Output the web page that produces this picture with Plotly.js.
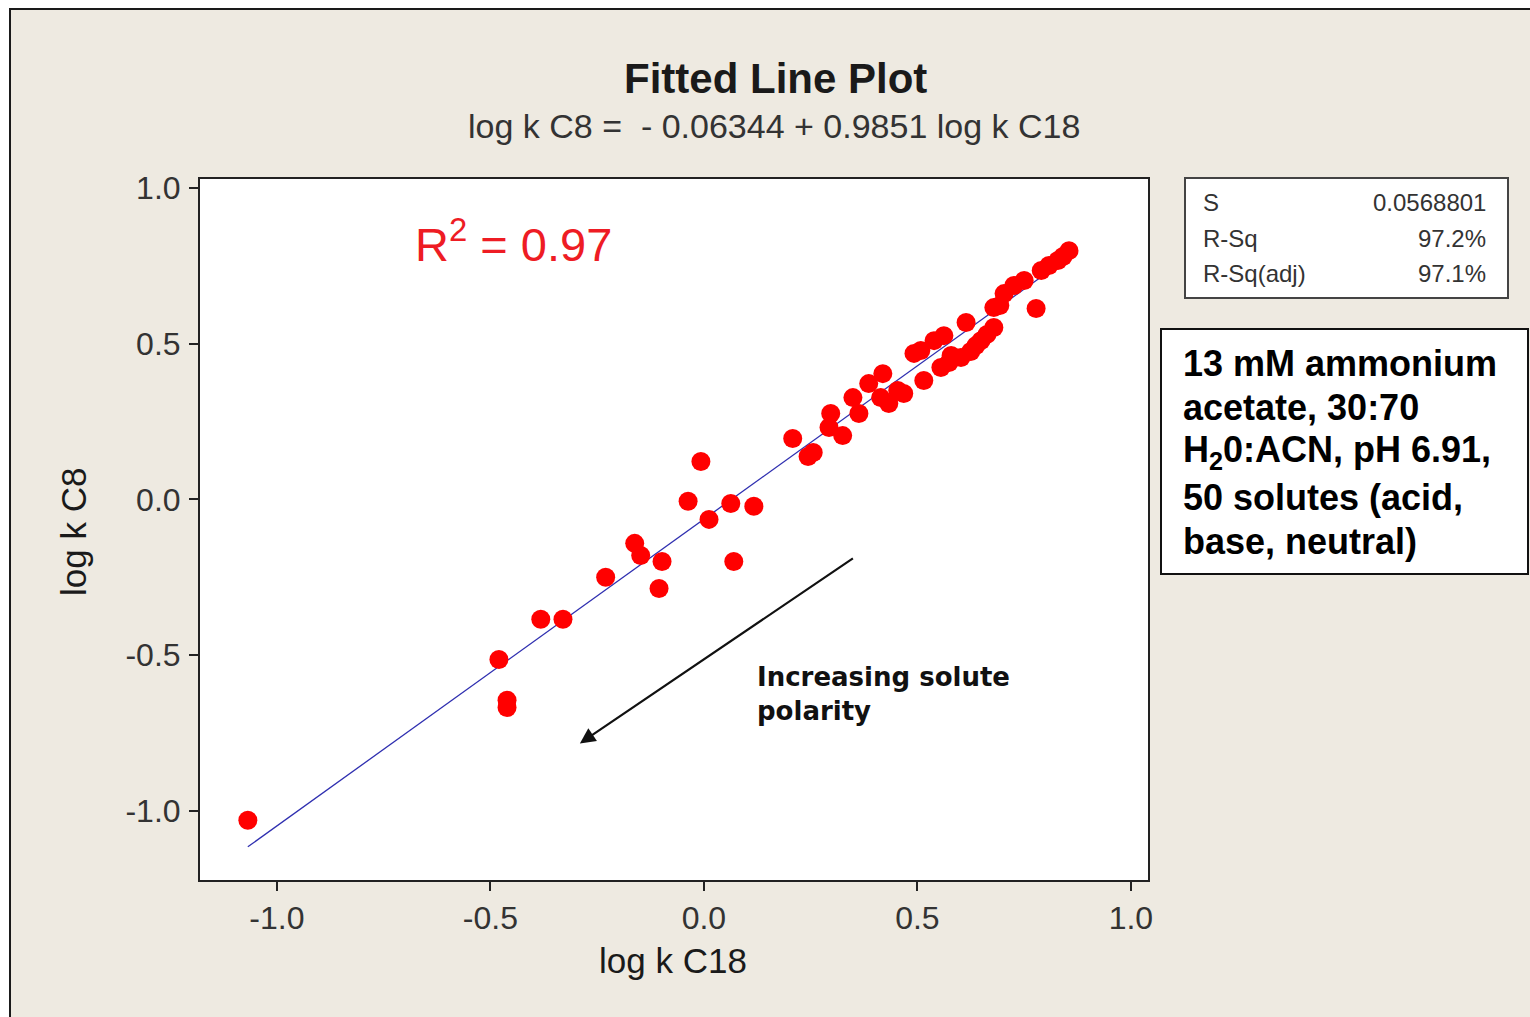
<!DOCTYPE html>
<html>
<head>
<meta charset="utf-8">
<script src="https://cdn.plot.ly/plotly-3.0.1.min.js"></script>
<style>
  html, body { margin:0; padding:0; background:#ffffff; width:1530px; height:1017px; overflow:hidden; }
  #frame { position:absolute; left:9px; top:8px; width:1560px; height:1040px; background:#EEEAE1; border:2px solid #1a1a1a; box-sizing:border-box; }
  #chart { position:absolute; left:0; top:0; width:1530px; height:1017px; }
</style>
</head>
<body>
<div id="frame"></div>
<div id="chart"></div>
<script>
// Observed data: log k C18 (x) vs log k C8 (y)
const logkC18 = [-1.068, -0.480, -0.461, -0.461, -0.382, -0.330, -0.230, -0.162, -0.148, -0.098,
                 -0.105, -0.037, -0.007, 0.012, 0.063, 0.117, 0.070, 0.208, 0.244, 0.256,
                 0.293, 0.297, 0.325, 0.349, 0.363, 0.386, 0.419, 0.414, 0.433, 0.468,
                 0.492, 0.515, 0.539, 0.562, 0.555, 0.614, 0.602, 0.649, 0.679, 0.679,
                 0.703, 0.750, 0.778, 0.790, 0.829, 0.855, 0.508, 0.579, 0.637, 0.726,
                 0.808, 0.841, 0.454, 0.574, 0.625, 0.663, 0.693];
const logkC8  = [-1.030, -0.514, -0.645, -0.668, -0.385, -0.385, -0.250, -0.141, -0.180, -0.199,
                 -0.286, -0.006, 0.122, -0.064, -0.013, -0.022, -0.199, 0.196, 0.138, 0.151,
                 0.231, 0.276, 0.205, 0.327, 0.276, 0.372, 0.404, 0.327, 0.308, 0.340,
                 0.469, 0.382, 0.510, 0.526, 0.424, 0.568, 0.456, 0.510, 0.552, 0.616,
                 0.661, 0.703, 0.613, 0.735, 0.767, 0.799, 0.478, 0.462, 0.494, 0.687,
                 0.751, 0.780, 0.350, 0.440, 0.475, 0.530, 0.623];

// Regression: log k C8 = -0.06344 + 0.9851 log k C18
const intercept = -0.06344;
const slope = 0.9851;
const fitX = [Math.min(...logkC18), Math.max(...logkC18)];
const fitY = fitX.map(v => intercept + slope * v);

const tickVals = [-1.0, -0.5, 0.0, 0.5, 1.0];
const tickText = ["-1.0", "-0.5", "0.0", "0.5", "1.0"];

const statLabels = ["S", "R-Sq", "R-Sq(adj)"];
const statValues = ["0.0568801", "97.2%", "97.1%"];

const noteLines = ["13 mM ammonium", "acetate, 30:70", "H<sub>2</sub>0:ACN, pH 6.91,", "50 solutes (acid,", "base, neutral)"];

const W = 1530, H = 1017;
const L = 200, R = 1148, T = 179, B = 880;
const px = x => (x - L) / (R - L);
const py = y => (B - y) / (B - T);

const tickFont = {family: "Liberation Sans, Arial, sans-serif", size: 32, color: "#333333"};

const traces = [
  {x: fitX, y: fitY, mode: "lines", type: "scatter",
   line: {color: "#2f2fb0", width: 1.3}, hoverinfo: "skip", showlegend: false},
  {x: logkC18, y: logkC8, mode: "markers", type: "scatter",
   marker: {color: "#ff0000", size: 19, line: {width: 0}}, showlegend: false}
];

const annotations = [
  {xref: "paper", yref: "paper", x: px(775), y: py(78), text: "<b>Fitted Line Plot</b>", showarrow: false,
   xanchor: "center", yanchor: "middle", font: {family: "Liberation Sans, Arial, sans-serif", size: 42, color: "#1a1a1a"}},
  {xref: "paper", yref: "paper", x: px(774), y: py(126), text: "log k C8 =  - 0.06344 + 0.9851 log k C18", showarrow: false,
   xanchor: "center", yanchor: "middle", font: {family: "Liberation Sans, Arial, sans-serif", size: 34, color: "#333333"}},
  {xref: "paper", yref: "paper", x: px(413), y: py(241), text: "R<sup>2</sup> = 0.97", showarrow: false,
   xanchor: "left", yanchor: "middle", font: {family: "Liberation Sans, Arial, sans-serif", size: 47, color: "#ee1c24"}},
  {xref: "paper", yref: "paper", x: px(673), y: py(960), text: "log k C18", showarrow: false,
   xanchor: "center", yanchor: "middle", font: {family: "Liberation Sans, Arial, sans-serif", size: 35, color: "#1a1a1a"}},
  {xref: "paper", yref: "paper", x: px(73), y: py(532), text: "log k C8", showarrow: false, textangle: -90,
   xanchor: "center", yanchor: "middle", font: {family: "Liberation Sans, Arial, sans-serif", size: 35, color: "#1a1a1a"}},
  // arrow
  {xref: "x", yref: "y", axref: "x", ayref: "y",
   x: (579 - 703) / 427, y: (499 - 743) / 311.5, ax: (855 - 703) / 427, ay: (499 - 556) / 311.5,
   text: " ", showarrow: true, arrowhead: 2, arrowsize: 1.4, arrowwidth: 2.2, arrowcolor: "#111111"},
  {xref: "paper", yref: "paper", x: px(755), y: py(694), text: "<b>Increasing solute<br>polarity</b>", showarrow: false,
   xanchor: "left", yanchor: "middle", align: "left",
   font: {family: "DejaVu Sans, sans-serif", size: 26, color: "#111111"}}
];

const noteYs = [363, 407, 452, 497, 541];
noteLines.forEach((t, i) => {
  annotations.push({xref: "paper", yref: "paper", x: px(1181), y: py(noteYs[i]), text: "<b>" + t + "</b>",
    showarrow: false, xanchor: "left", yanchor: "middle", align: "left",
    font: {family: "Liberation Sans, Arial, sans-serif", size: 36, color: "#000000"}});
});

const statYs = [202, 238, 274];
statLabels.forEach((lab, i) => {
  annotations.push({xref: "paper", yref: "paper", x: px(1201), y: py(statYs[i]), text: lab, showarrow: false,
    xanchor: "left", yanchor: "middle", font: {family: "Liberation Sans, Arial, sans-serif", size: 24, color: "#333333"}});
  annotations.push({xref: "paper", yref: "paper", x: px(1488), y: py(statYs[i]), text: statValues[i], showarrow: false,
    xanchor: "right", yanchor: "middle", font: {family: "Liberation Sans, Arial, sans-serif", size: 24, color: "#333333"}});
});

const shapes = [
  {type: "rect", xref: "paper", yref: "paper", x0: px(1185), x1: px(1508), y0: py(178), y1: py(298),
   fillcolor: "#ffffff", line: {color: "#444444", width: 2}, layer: "below"},
  {type: "rect", xref: "paper", yref: "paper", x0: px(1161), x1: px(1528), y0: py(329), y1: py(574),
   fillcolor: "#ffffff", line: {color: "#111111", width: 2}, layer: "below"}
];

const layout = {
  width: W, height: H,
  margin: {l: L, r: W - R, t: T, b: H - B, pad: 0},
  paper_bgcolor: "rgba(0,0,0,0)",
  plot_bgcolor: "#ffffff",
  showlegend: false,
  xaxis: {range: [-1.18, 1.04], tickvals: tickVals, ticktext: tickText, ticks: "outside", ticklen: 9,
          tickwidth: 2, tickcolor: "#222222", showgrid: false, zeroline: false, showline: true, mirror: true,
          linecolor: "#222222", linewidth: 2, tickfont: tickFont, ticklabelstandoff: 0, fixedrange: true},
  yaxis: {range: [-1.222, 1.029], tickvals: tickVals, ticktext: tickText, ticks: "outside", ticklen: 9,
          tickwidth: 2, tickcolor: "#222222", showgrid: false, zeroline: false, showline: true, mirror: true,
          linecolor: "#222222", linewidth: 2, tickfont: tickFont, ticklabelstandoff: 2, fixedrange: true},
  annotations: annotations,
  shapes: shapes
};

Plotly.newPlot("chart", traces, layout, {displayModeBar: false, staticPlot: true});
</script>
</body>
</html>
